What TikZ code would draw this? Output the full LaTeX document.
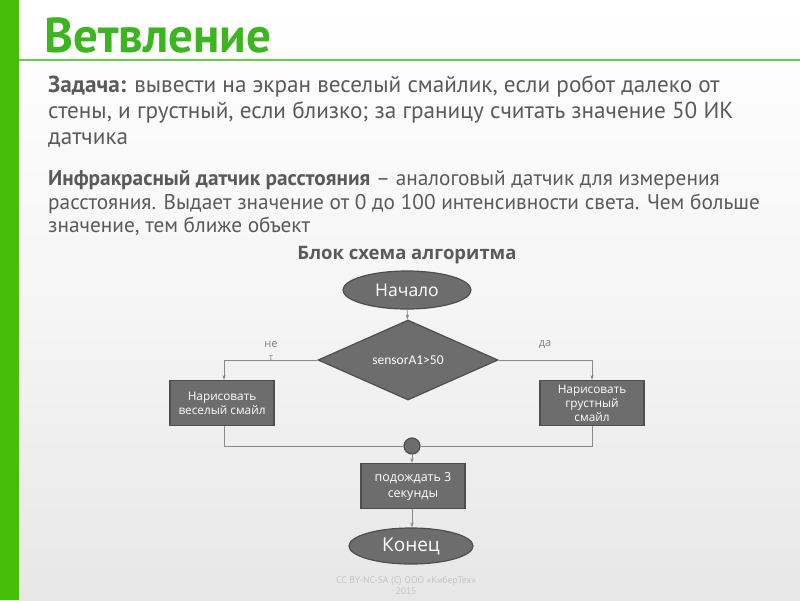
\documentclass[tikz,border=0pt]{standalone}
\usepackage{fontspec}
\setmainfont{PT Sans}
\newfontfamily\flowfont{Open Sans}
\newfontfamily\calfont{Carlito}
\usetikzlibrary{shapes.geometric,arrows.meta}
\definecolor{barGreen}{HTML}{46BE0A}
\definecolor{titleGreen}{HTML}{3DB520}
\definecolor{lineGreen}{HTML}{6CC84A}
\definecolor{bodyGray}{HTML}{5A5A5A}
\definecolor{shapeFill}{HTML}{6D6D6D}
\definecolor{shapeEdge}{HTML}{4E4E4E}
\definecolor{connGray}{HTML}{8A8A8A}
\definecolor{footGray}{HTML}{C4C4C4}
\definecolor{bgBottom}{HTML}{E7E7E7}
\tikzset{
  bodyline/.style={anchor=base west, inner sep=0pt, text=bodyGray, font=\fontsize{23.2}{26}\selectfont},
  bodylinesm/.style={anchor=base west, inner sep=0pt, text=bodyGray, font=\fontsize{21.3}{24}\selectfont},
  terminal/.style={ellipse, draw=shapeEdge, line width=1.2pt, fill=shapeFill, text=white, inner sep=0pt},
  procbox/.style={rectangle, draw=shapeEdge, line width=1.2pt, fill=shapeFill, text=white, align=center,
     minimum width=104pt, minimum height=45pt, inner sep=1pt, font=\flowfont\fontsize{11.8}{14}\selectfont},
  decision/.style={diamond, draw=shapeEdge, line width=1.2pt, fill=shapeFill, text=white, aspect=2.25,
     minimum width=180pt, minimum height=80pt, inner sep=0pt, font=\calfont\fontsize{13.5}{15}\selectfont},
  conn/.style={draw=connGray, line width=0.8pt},
  arr/.style={conn, -{Stealth[length=5pt,width=3.5pt]}},
  lbl/.style={text=gray, font=\flowfont\fontsize{11}{12}\selectfont, inner sep=0pt, align=center}
}
\begin{document}
\begin{tikzpicture}[x=1pt,y=-1pt]
\useasboundingbox (0,0) rectangle (800,600);
\shade[top color=white, bottom color=bgBottom, middle color=white!60!bgBottom] (0,0) rectangle (800,600);
\fill[barGreen] (0,0) rectangle (19,600);
\draw[lineGreen, line width=2pt] (19,60) -- (800,60);
\node[anchor=base west, inner sep=0pt, text=titleGreen, font=\bfseries\fontsize{49}{52}\selectfont] (title) at (44,52) {Ветвление};

\node[bodyline] (t1) at (48,92) {\textbf{Задача:} вывести на экран веселый смайлик, если робот далеко от};
\node[bodyline] (t2) at (48,118) {стены, и грустный, если близко; за границу считать значение 50 ИК};
\node[bodyline] (t3) at (48,144) {датчика};
\node[bodylinesm] (t4) at (48,185) {\textbf{Инфракрасный датчик расстояния} -- аналоговый датчик для измерения};
\node[bodylinesm] (t5) at (48,209) {расстояния. Выдает значение от 0 до 100 интенсивности света. Чем больше};
\node[bodylinesm] (t6) at (48,232) {значение, тем ближе объект};

\node[anchor=base, inner sep=0pt, text=bodyGray, font=\flowfont\bfseries\fontsize{18.5}{20}\selectfont] (cap) at (407,259) {Блок схема алгоритма};

\node[terminal, minimum width=128pt, minimum height=38pt, font=\flowfont\fontsize{17.5}{19}\selectfont] (start) at (407,290) {Начало};
\node[decision] (dec) at (408,360) {sensorA1>50};
\node[procbox] (left) at (222,403) {Нарисовать\\веселый смайл};
\node[procbox] (right) at (592,403) {Нарисовать\\грустный\\смайл};
\node[circle, draw=shapeEdge, line width=1.2pt, fill=shapeFill, minimum size=16pt, inner sep=0pt] (join) at (412,446) {};
\node[procbox, font=\flowfont\fontsize{12.5}{16}\selectfont] (wait) at (413,486) {подождать 3\\секунды};
\node[terminal, minimum width=124pt, minimum height=36pt, font=\flowfont\fontsize{19}{21}\selectfont] (end) at (411,546) {Конец};

\coordinate (lc) at (224,360);
\coordinate (rc) at (592,360);
\coordinate (lb) at (224,446);
\coordinate (rb) at (592,446);

\draw[arr] (start) -- (dec);
\draw[arr] (dec.west) -- (lc) -- (left.north -| lc);
\draw[arr] (dec.east) -- (rc) -- (right.north);
\draw[conn] (left.south -| lb) -- (lb) -- (join);
\draw[conn] (right.south) -- (rb) -- (join);
\draw[arr] (join) -- (wait.north -| join);
\draw[arr] (wait.south -| join) -- (end.north -| join);

\node[lbl] (no) at (271,345) {не};
\node[lbl, font=\flowfont\fontsize{9}{10}\selectfont] (no2) at (271,358) {т};
\node[lbl] (yes) at (545,345) {да};

\node[text=footGray, font=\fontsize{9.6}{11}\selectfont, align=center, inner sep=0pt] (foot) at (406,586) {CC BY-NC-SA (C) ООО «КиберТех»\\2015};
\end{tikzpicture}
\end{document}
